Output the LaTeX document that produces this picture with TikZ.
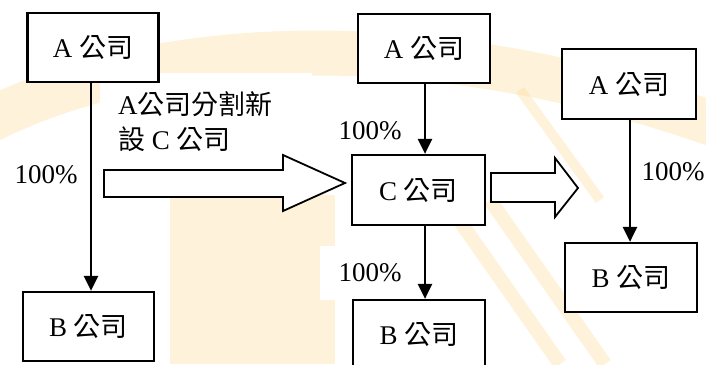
\documentclass[tikz,border=0pt]{standalone}
\usepackage{fontspec}
\setmainfont{Liberation Serif}
\newfontfamily\cjk{Noto Sans CJK TC}[Scale=1.0]
\usetikzlibrary{arrows.meta}
\definecolor{wm}{RGB}{252,222,165}
\tikzset{
  company/.style={draw=black, line width=2.2pt, fill=white, minimum width=131pt, minimum height=69pt, inner sep=0pt, font=\fontsize{27}{32}\selectfont},
  own/.style={line width=2.6pt, -{Triangle[width=14pt,length=15pt]}},
  pct/.style={inner sep=0pt, font=\fontsize{27}{32}\selectfont},
  hollow/.style={draw=black, line width=1.8pt, fill=white, line join=miter},
  labelbg/.style={fill=white, draw=none},
  watermark/.style={wm, opacity=0.4}
}
\begin{document}
\begin{tikzpicture}[x=1pt,y=-1pt]
\useasboundingbox (0,0) rectangle (706,364);
% faint watermark background
\fill[watermark] (170,195) rectangle (335,364);
\draw[watermark, line width=45pt] (-10,120) .. controls (150,40) and (420,20) .. (716,125);
\draw[watermark, line width=14pt] (445,200) -- (560,364);
\draw[watermark, line width=14pt] (490,200) -- (605,364);
\draw[watermark, line width=10pt] (520,90) -- (600,200);
% white label backgrounds
\fill[labelbg] (100,73) rectangle (312,168);
\fill[labelbg] (320,106) rectangle (440,166);
\fill[labelbg] (320,246) rectangle (440,300);
% hollow transition arrows
\draw[hollow] (104,170) -- (283,170) -- (283,155) -- (345,183) -- (283,211) -- (283,197) -- (104,197) -- cycle;
\draw[hollow] (491,173) -- (555,173) -- (555,158) -- (578,188) -- (555,217) -- (555,202) -- (491,202) -- cycle;
% company boxes
\node[company] (A1) at (93,47.5) {A {\cjk 公司}};
\node[company] (B1) at (88.5,326.5) {B {\cjk 公司}};
\node[company, minimum width=132pt] (A2) at (424,48.5) {A {\cjk 公司}};
\node[company, minimum width=133pt, minimum height=70pt] (C) at (418.5,190) {C {\cjk 公司}};
\node[company, minimum width=132pt, minimum height=68pt] (B2) at (419,334) {B {\cjk 公司}};
\node[company, minimum width=134pt, minimum height=70pt] (A3) at (629,84) {A {\cjk 公司}};
\node[company, minimum width=132pt] (B3) at (631,277.5) {B {\cjk 公司}};
% ownership connectors
\draw[own] ([xshift=-2pt]A1.south) -- ([xshift=-2pt]A1.south |- B1.north);
\draw[own] ([xshift=1pt]A2.south) -- ([xshift=1pt]A2.south |- C.north);
\draw[own] ([xshift=6.5pt]C.south) -- ([xshift=6.5pt]C.south |- B2.north);
\draw[own] ([xshift=1pt]A3.south) -- ([xshift=1pt]A3.south |- B3.north);
% labels
\node[pct] (p1) at (46,175) {100\%};
\node[pct] (p2) at (370,131) {100\%};
\node[pct] (p3) at (370,273) {100\%};
\node[pct] (p4) at (673,172) {100\%};
\node[pct, align=left, anchor=west, font=\fontsize{27}{35}\selectfont] (split) at (118,122) {A{\cjk 公司分割新}\\{\cjk 設} C {\cjk 公司}};
\end{tikzpicture}
\end{document}
